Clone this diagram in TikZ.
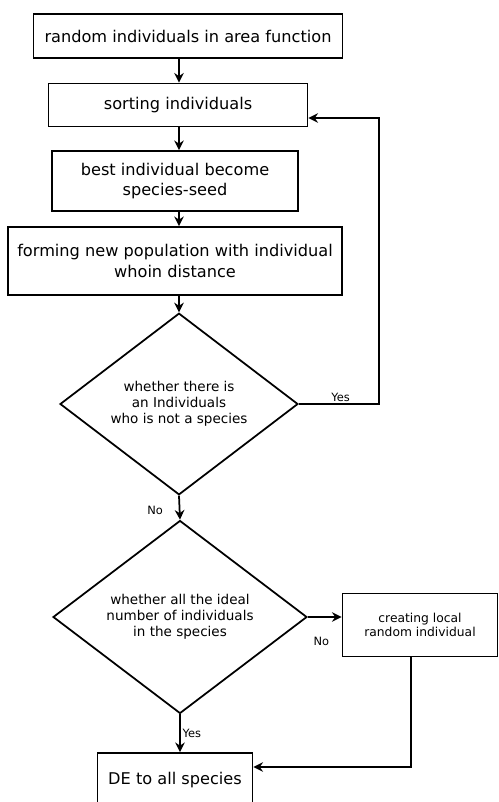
\documentclass[tikz,border=0pt]{standalone}
\usepackage{fontspec}
\setmainfont{DejaVu Sans}
\usetikzlibrary{arrows.meta}
\usetikzlibrary{shapes.geometric}

\begin{document}
\begin{tikzpicture} [x=0.02cm, y=-0.02cm, line width=1pt, >={Stealth[length=5.5pt, width=5.5pt, inset=1.8pt]},
 box/.style={draw, rectangle, align=center, inner sep=0pt, font=\fontsize{9.2}{11.8}\selectfont},
 ask/.style={draw, diamond, align=center, inner sep=0pt, font=\fontsize{7.7}{9}\selectfont},
 tag/.style={font=\fontsize{6.5}{7}\selectfont, inner sep=1pt}]
\useasboundingbox (0,0) rectangle (499,802);
\node[box, minimum width=6.18cm, minimum height=0.88cm] (init) at (188,36) {random individuals in area function};
\node[box, minimum width=5.18cm, minimum height=0.86cm] (sort) at (178,105) {sorting individuals};
\node[box, minimum width=4.92cm, minimum height=1.2cm]  (seed) at (175,181) {best individual become\\species-seed};
\node[box, minimum width=6.68cm, minimum height=1.36cm] (form) at (175,261) {forming new population with individual\\whoin distance};
\node[ask, minimum width=4.76cm, minimum height=3.6cm]  (left) at (179,404) {whether there is\\an Individuals\\who is not a species};
\node[ask, minimum width=5.08cm, minimum height=3.86cm] (full) at (180,617) {whether all the ideal\\number of individuals\\in the species};
\node[box, minimum width=3.1cm, minimum height=1.26cm, font=\fontsize{7}{8}\selectfont] (local) at (420,625) {creating local\\random individual};
\node[box, minimum width=3.1cm, minimum height=1.08cm] (de) at (175,780) {DE to all species};
\coordinate (back) at (379,118);
\coordinate (turn) at (411,767);
% main line
\foreach \a/\b in {init/sort, sort/seed, seed/form, form/left}
 \draw[->] (\a.south -| left) -- (\b.north -| left);
\draw[->] (left.south) -- node[tag, left=8pt, pos=0.6] {No} (full.north);
\draw[->] (full.south) -- node[tag, right] {Yes} (de.north -| full);
% loops
\draw[->] (left.east) -- node[tag, above, pos=0.52] {Yes} (left.east -| back) -- (back) -- (back -| sort.east);
\draw[->] (full.east) -- node[tag, below=10pt, pos=0.4] {No} (full.east -| local.west);
\draw[->] (turn |- local.south) -- (turn) -- (turn -| de.east);
\end{tikzpicture}
\end{document}
